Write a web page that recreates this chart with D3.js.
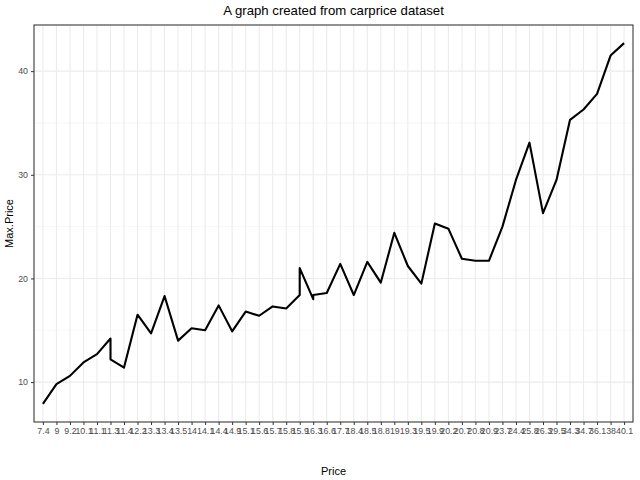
<!DOCTYPE html>
<html>
<head>
<meta charset="utf-8">
<script src="https://cdn.jsdelivr.net/npm/d3@7"></script>
<style>
body { margin: 0; background: #fff; }
text { font-family: "Liberation Sans", Arial, sans-serif; }
</style>
</head>
<body>
<svg id="plot" width="640" height="480"></svg>
<script>
const priceLevels = ["7.4","9","9.2","10.1","11.1","11.3","11.4","12.2","13.3","13.4","13.5","14","14.1","14.4","14.9","15.1","15.6","15.7","15.8","15.9","16.3","16.6","17.7","18.4","18.5","18.8","19","19.3","19.5","19.9","20.2","20.7","20.8","20.9","23.7","24.4","25.8","26.3","29.5","34.3","34.7","36.1","38","40.1"];
// points in drawing order (repeated price = vertical step)
const pointPrice = ["7.4","9","9.2","10.1","11.1","11.3","11.3","11.4","12.2","13.3","13.4","13.5","14","14.1","14.4","14.9","15.1","15.6","15.7","15.8","15.9","15.9","16.3","16.3","16.6","17.7","18.4","18.5","18.8","19","19.3","19.5","19.9","20.2","20.7","20.8","20.9","23.7","24.4","25.8","26.3","29.5","34.3","34.7","36.1","38","40.1"];
const maxPrice = [7.9,9.8,10.6,11.9,12.7,14.2,12.2,11.4,16.5,14.7,18.3,14.0,15.2,15.0,17.4,14.9,16.8,16.4,17.3,17.1,18.4,21.0,18.0,18.4,18.6,21.4,18.4,21.6,19.6,24.4,21.2,19.5,25.3,24.8,21.9,21.7,21.7,25.0,29.5,33.1,26.3,29.5,35.3,36.3,37.8,41.5,42.7];
const yTicks = [10,20,30,40];
const yMinor = [15,25,35];

const svg = d3.select("#plot");
const pLeft = 34, pRight = 633, pTop = 25, pBottom = 422;

const x = d3.scalePoint().domain(priceLevels).range([pLeft, pRight]).padding(0.66);
const y = d3.scaleLinear().domain([6.15, 44.45]).range([pBottom, pTop]);

// grid
svg.selectAll(".ymin").data(yMinor).enter().append("line")
    .attr("x1", pLeft).attr("x2", pRight)
    .attr("y1", d => y(d)).attr("y2", d => y(d))
    .attr("stroke", "#f0f0f0").attr("stroke-width", 0.55);
svg.selectAll(".ymaj").data(yTicks).enter().append("line")
    .attr("x1", pLeft).attr("x2", pRight)
    .attr("y1", d => y(d)).attr("y2", d => y(d))
    .attr("stroke", "#ebebeb").attr("stroke-width", 1.07);
svg.selectAll(".xmaj").data(priceLevels).enter().append("line")
    .attr("y1", pTop).attr("y2", pBottom)
    .attr("x1", d => x(d)).attr("x2", d => x(d))
    .attr("stroke", "#ebebeb").attr("stroke-width", 1.07);

// line
const line = d3.line().x((d, i) => x(pointPrice[i])).y(d => y(d));
svg.append("path").datum(maxPrice)
    .attr("d", line)
    .attr("fill", "none").attr("stroke", "#000").attr("stroke-width", 2.1)
    .attr("stroke-linejoin", "round");

// panel border
svg.append("rect").attr("x", pLeft).attr("y", pTop)
    .attr("width", pRight - pLeft).attr("height", pBottom - pTop)
    .attr("fill", "none").attr("stroke", "#333").attr("stroke-width", 1.07);

// axes
const axisB = d3.axisBottom(x).tickSize(3).tickPadding(3);
const gx = svg.append("g").attr("transform", "translate(0," + pBottom + ")").call(axisB);
gx.select(".domain").remove();
gx.selectAll("line").attr("stroke", "#333");
gx.selectAll("text").attr("fill", "#4d4d4d").style("font-size", "8.8px");

const axisL = d3.axisLeft(y).tickValues(yTicks).tickSize(3).tickPadding(3);
const gy = svg.append("g").attr("transform", "translate(" + pLeft + ",0)").call(axisL);
gy.select(".domain").remove();
gy.selectAll("line").attr("stroke", "#333");
gy.selectAll("text").attr("fill", "#4d4d4d").style("font-size", "8.8px");

svg.append("text").attr("x", (pLeft + pRight) / 2).attr("y", 475)
    .style("text-anchor", "middle").style("font-size", "11px").text("Price");
svg.append("text").attr("transform", "translate(13," + ((pTop + pBottom) / 2) + ") rotate(-90)")
    .style("text-anchor", "middle").style("font-size", "11px").text("Max.Price");
svg.append("text").attr("x", (pLeft + pRight) / 2).attr("y", 15)
    .style("text-anchor", "middle").style("font-size", "13.2px").text("A graph created from carprice dataset");
</script>
</body>
</html>
